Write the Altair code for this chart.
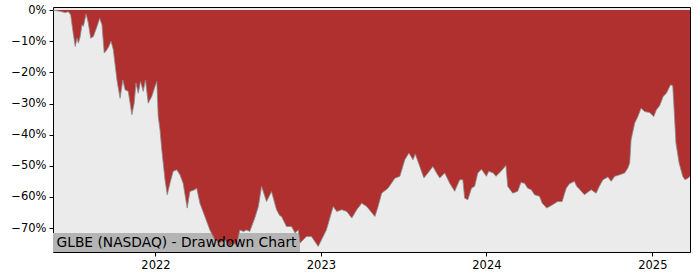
import altair as alt
import pandas as pd

title_text = "GLBE (NASDAQ) - Drawdown Chart"

dates = [
    "2021-05-20", "2021-05-21", "2021-06-05", "2021-06-16", "2021-06-23", "2021-06-28", "2021-07-03",
    "2021-07-08", "2021-07-12", "2021-07-15", "2021-07-19", "2021-07-23", "2021-07-26",
    "2021-08-01", "2021-08-06", "2021-08-11", "2021-08-17", "2021-08-21", "2021-08-25",
    "2021-08-31", "2021-09-05", "2021-09-10", "2021-09-16", "2021-09-20", "2021-09-25",
    "2021-09-30", "2021-10-08", "2021-10-15", "2021-10-21", "2021-10-26", "2021-11-02",
    "2021-11-10", "2021-11-15", "2021-11-19", "2021-11-24", "2021-11-29", "2021-12-05",
    "2021-12-10", "2021-12-16", "2021-12-24", "2021-12-31", "2022-01-04", "2022-01-07",
    "2022-01-11", "2022-01-15", "2022-01-22", "2022-01-27", "2022-02-02", "2022-02-09",
    "2022-02-17", "2022-02-24", "2022-03-03", "2022-03-12", "2022-03-18", "2022-03-28",
    "2022-04-02", "2022-04-09", "2022-04-20", "2022-05-01", "2022-05-12", "2022-05-23",
    "2022-06-03", "2022-06-14", "2022-06-21", "2022-06-29", "2022-07-06", "2022-07-14",
    "2022-07-21", "2022-07-28", "2022-08-08", "2022-08-16", "2022-08-23", "2022-09-03",
    "2022-09-14", "2022-09-25", "2022-10-02", "2022-10-06", "2022-10-17", "2022-10-28",
    "2022-11-05", "2022-11-12", "2022-11-16", "2022-11-30", "2022-12-11", "2022-12-26",
    "2023-01-13", "2023-01-28", "2023-02-05", "2023-02-16", "2023-02-27", "2023-03-10",
    "2023-03-21", "2023-04-01", "2023-04-12", "2023-04-30", "2023-05-07", "2023-05-15",
    "2023-05-29", "2023-06-13", "2023-06-24", "2023-07-05", "2023-07-14", "2023-07-23",
    "2023-07-28", "2023-08-07", "2023-08-16", "2023-08-25", "2023-09-05", "2023-09-13",
    "2023-09-20", "2023-10-01", "2023-10-12", "2023-10-23", "2023-11-03", "2023-11-10",
    "2023-11-14", "2023-11-21", "2023-11-29", "2023-12-06", "2023-12-13", "2023-12-21",
    "2024-01-01", "2024-01-06", "2024-01-16", "2024-01-22", "2024-02-02", "2024-02-13",
    "2024-02-17", "2024-02-28", "2024-03-10", "2024-03-17", "2024-03-25", "2024-04-01",
    "2024-04-09", "2024-04-16", "2024-04-27", "2024-05-03", "2024-05-13", "2024-05-26",
    "2024-06-06", "2024-06-16", "2024-06-25", "2024-07-02", "2024-07-13", "2024-07-18",
    "2024-07-24", "2024-08-04", "2024-08-19", "2024-08-30", "2024-09-06", "2024-09-14",
    "2024-09-25", "2024-10-02", "2024-10-10", "2024-10-21", "2024-11-01", "2024-11-08",
    "2024-11-12", "2024-11-15", "2024-11-23", "2024-11-30", "2024-12-07", "2024-12-15",
    "2024-12-26", "2025-01-04", "2025-01-10", "2025-01-17", "2025-01-25", "2025-02-01",
    "2025-02-10", "2025-02-15", "2025-02-18", "2025-02-22", "2025-03-01", "2025-03-09",
    "2025-03-14", "2025-03-21", "2025-03-25",
]

drawdown = [
    0.0, 0.0, -0.4, -0.8, -0.5, -1.5, -6.9,
    -11.7, -9.0, -10.6, -8.5, -4.7, -5.2,
    -1.2, -4.2, -9.0, -8.5, -6.9, -5.3,
    -2.6, -4.7, -13.8, -12.7, -11.7, -10.0,
    -12.7, -22.4, -28.3, -22.4, -25.6, -26.1,
    -33.6, -29.9, -23.4, -26.7, -22.9, -26.1,
    -22.4, -29.9, -27.7, -24.5, -22.9, -34.0,
    -38.4, -44.9, -54.5, -59.3, -55.6, -51.8,
    -51.3, -52.9, -55.6, -63.6, -58.3, -57.7,
    -57.2, -62.0, -66.3, -70.6, -73.8, -74.8,
    -73.8, -75.9, -74.8, -75.4, -70.6, -71.1,
    -70.6, -71.1, -66.8, -63.1, -56.6, -61.5,
    -58.3, -64.1, -66.0, -66.3, -69.5, -69.5,
    -71.6, -70.6, -74.8, -72.7, -72.7, -75.9,
    -70.6, -63.1, -64.7, -64.1, -64.7, -66.8,
    -64.1, -62.0, -63.1, -66.3, -63.1, -58.8,
    -57.2, -54.0, -53.4, -48.1, -45.9, -48.1,
    -46.2, -50.2, -53.9, -52.3, -50.2, -52.3,
    -53.9, -52.3, -55.6, -58.2, -54.5, -54.5,
    -60.4, -60.9, -57.2, -56.6, -52.3, -51.1,
    -53.4, -51.8, -52.3, -53.4, -51.8, -49.9,
    -56.6, -58.8, -58.2, -55.4, -55.6, -57.2,
    -57.7, -59.3, -59.8, -62.0, -63.6, -62.5,
    -61.5, -61.5, -57.2, -55.8, -55.0, -56.6,
    -57.5, -59.3, -57.7, -58.8, -56.6, -54.5,
    -53.6, -55.0, -53.4, -52.9, -52.3, -50.7,
    -49.1, -41.7, -36.3, -34.2, -31.5, -32.6,
    -32.9, -34.2, -32.0, -30.7, -27.7, -26.7,
    -24.0, -24.3, -32.0, -42.7, -49.1, -53.4,
    -54.5, -53.9, -53.4,
]

y_ticks = [0, -10, -20, -30, -40, -50, -60, -70]
x_tick_years = [2022, 2023, 2024, 2025]
y_min, y_max = -77.7, 1.0

df = pd.DataFrame({"date": pd.to_datetime(dates), "dd": drawdown})

x_enc = alt.X(
    "date:T",
    scale=alt.Scale(type="utc", domain=[alt.DateTime(year=2021, month=5, date=20, utc=True),
                                        alt.DateTime(year=2025, month=3, date=25, utc=True)], nice=False),
    axis=alt.Axis(
        title=None,
        values=[alt.DateTime(year=yv, month=1, date=1, utc=True) for yv in x_tick_years],
        format="%Y",
        grid=False,
        domain=False,
        labelPadding=3,
        labelOverlap=False,
    ),
)
y_enc = alt.Y(
    "dd:Q",
    scale=alt.Scale(domain=[y_min, y_max], nice=False, zero=False),
    axis=alt.Axis(
        title=None,
        values=y_ticks,
        labelExpr="datum.value == 0 ? '0%' : '\u2212' + abs(datum.value) + '%'",
        grid=False,
        domain=False,
        labelPadding=3,
        labelOverlap=False,
        labelFlush=False,
    ),
)

area = alt.Chart(df).mark_area(color="#b03030", interpolate="linear").encode(
    x=x_enc, y=y_enc, y2=alt.value(0)
)
edge = alt.Chart(df).mark_line(color="#8a8a8a", strokeWidth=0.8, interpolate="linear").encode(
    x=x_enc, y=y_enc
)

label_df = pd.DataFrame({"t": [title_text]})
box = alt.Chart(label_df).mark_rect(color="#b4b4b4").encode(
    x=alt.value(0), x2=alt.value(247), y=alt.value(226), y2=alt.value(245)
)
text = alt.Chart(label_df).mark_text(
    align="left", baseline="alphabetic", font="DejaVu Sans", fontSize=13.8, color="#000000"
).encode(x=alt.value(3.5), y=alt.value(240), text="t:N")

chart = (
    alt.layer(box, area, edge, text)
    .properties(
        width=637,
        height=245,
        autosize=alt.AutoSizeParams(type="none"),
        padding={"left": 53, "top": 7, "right": 10, "bottom": 28},
        background="white",
    )
    .configure_view(fill="#ebebeb", stroke="#000000", strokeWidth=1)
    .configure_axis(
        labelFont="DejaVu Sans",
        labelFontSize=11.5,
        labelColor="#000000",
        tickColor="#000000",
        tickSize=4,
        tickWidth=1,
        labelOverlap=False,
    )
)

chart.save("out.html", embed_options={"renderer": "svg", "actions": False})
